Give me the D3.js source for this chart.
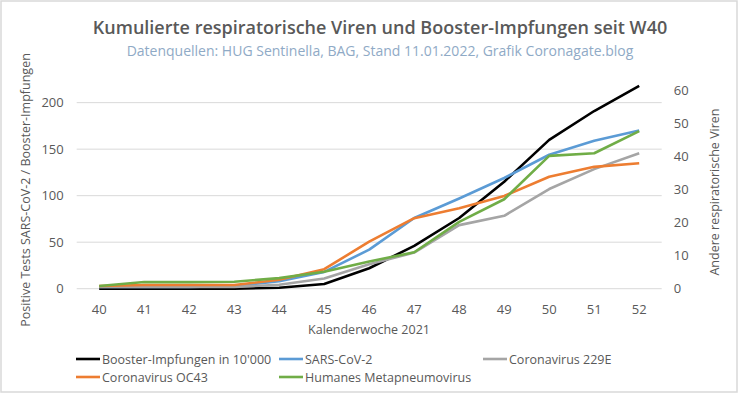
<html>
<head>
<meta charset="utf-8">
<script src="https://d3js.org/d3.v7.min.js"></script>
<style>
  body { margin: 0; background: #fff; }
  text { font-family: "Open Sans", sans-serif; fill: #595959; }
</style>
</head>
<body>
<div id="chart"></div>
<script>
// Kalenderwochen
const weeks = [40, 41, 42, 43, 44, 45, 46, 47, 48, 49, 50, 51, 52];

// left axis series
const booster = [0, 0, 0, 0, 1, 5, 22, 46, 76, 115, 160, 191, 218];
const sarsCov2 = [2, 2, 2, 3, 8, 18, 42, 76, 97, 119, 144, 159, 170];

// right axis series
const cov229E = [0.5, 0.5, 0.5, 0.5, 1.2, 3.1, 7.4, 10.9, 19.2, 22, 30.1, 36.1, 40.9];
const covOC43 = [0.8, 1.1, 1.1, 1.1, 2.7, 5.9, 14.2, 21.3, 24.3, 28, 33.8, 36.8, 37.9];
const metapneumo = [0.8, 2, 2, 2.1, 3.2, 5.1, 8.2, 11, 20.2, 27, 40.1, 40.9, 47.6];

const leftTicks = [0, 50, 100, 150, 200];
const rightTicks = [0, 10, 20, 30, 40, 50, 60];

const series = [
  {name: "Booster-Impfungen in 10'000", values: booster, axis: "left", color: "#000000"},
  {name: "SARS-CoV-2", values: sarsCov2, axis: "left", color: "#5b9bd5"},
  {name: "Coronavirus 229E", values: cov229E, axis: "right", color: "#a5a5a5"},
  {name: "Coronavirus OC43", values: covOC43, axis: "right", color: "#ed7d31"},
  {name: "Humanes Metapneumovirus", values: metapneumo, axis: "right", color: "#70ad47"}
];

const W = 740, H = 395;
const plotL = 76.7, plotR = 661.7, plotT = 90, plotB = 288.7;

const svg = d3.select("#chart").append("svg")
  .attr("width", W).attr("height", H);

svg.append("rect")
  .attr("x", 1).attr("y", 1).attr("width", W - 4).attr("height", H - 4)
  .attr("fill", "#fff").attr("stroke", "#d9d9d9").attr("stroke-width", 1.5);

const x = d3.scaleBand().domain(weeks).range([plotL, plotR]);
const yL = d3.scaleLinear().domain([0, 213.6]).range([plotB, plotT]);
const yR = d3.scaleLinear().domain([0, 60]).range([plotB, plotT]);

// gridlines
svg.append("g").selectAll("line").data(leftTicks).enter().append("line")
  .attr("x1", plotL).attr("x2", plotR)
  .attr("y1", d => yL(d)).attr("y2", d => yL(d))
  .attr("stroke", "#d9d9d9").attr("stroke-width", 1);

// left axis
const axL = svg.append("g")
  .attr("transform", `translate(${plotL},0)`)
  .call(d3.axisLeft(yL).tickValues(leftTicks).tickSize(0).tickPadding(13));
axL.select(".domain").remove();
axL.selectAll("text").style("font-size", "13px").attr("fill", "#595959");

// right axis
const axR = svg.append("g")
  .attr("transform", `translate(${plotR},0)`)
  .call(d3.axisRight(yR).tickValues(rightTicks).tickSize(0).tickPadding(12));
axR.select(".domain").remove();
axR.selectAll("text").style("font-size", "13px").attr("fill", "#595959");

// x axis
const axX = svg.append("g")
  .attr("transform", `translate(0,${plotB})`)
  .call(d3.axisBottom(x).tickSize(0).tickPadding(16));
axX.select(".domain").remove();
axX.selectAll("text").style("font-size", "13px").attr("fill", "#595959");

// lines
const cx = d => x(d) + x.bandwidth() / 2;
series.forEach(s => {
  const yScale = s.axis === "left" ? yL : yR;
  const line = d3.line()
    .x((d, i) => cx(weeks[i]))
    .y(d => yScale(d));
  svg.append("path")
    .datum(s.values)
    .attr("d", line)
    .attr("fill", "none")
    .attr("stroke", s.color)
    .attr("stroke-width", 2.6)
    .attr("stroke-linejoin", "round");
});

// titles
svg.append("text")
  .attr("x", 380).attr("y", 34)
  .attr("text-anchor", "middle")
  .style("font-size", "18px").style("font-weight", "600")
  .text("Kumulierte respiratorische Viren und Booster-Impfungen seit W40");

svg.append("text")
  .attr("x", 380).attr("y", 56)
  .attr("text-anchor", "middle")
  .style("font-size", "14px").style("fill", "#8faac6")
  .text("Datenquellen: HUG Sentinella, BAG, Stand 11.01.2022, Grafik Coronagate.blog");

svg.append("text")
  .attr("transform", "translate(30,190) rotate(-90)")
  .attr("text-anchor", "middle")
  .style("font-size", "12.5px")
  .text("Positive Tests SARS-CoV-2 / Booster-Impfungen");

svg.append("text")
  .attr("transform", "translate(719,192) rotate(-90)")
  .attr("text-anchor", "middle")
  .style("font-size", "12.5px")
  .text("Andere respiratorische Viren");

svg.append("text")
  .attr("x", 369).attr("y", 334)
  .attr("text-anchor", "middle")
  .style("font-size", "12.5px")
  .text("Kalenderwoche 2021");

// legend
const legendPos = [[76, 359], [279, 359], [483, 359], [76, 377], [279, 377]];
const lg = svg.append("g").selectAll("g").data(series).enter().append("g")
  .attr("transform", (d, i) => `translate(${legendPos[i][0]},${legendPos[i][1]})`);
lg.append("line")
  .attr("x1", 0).attr("x2", 24).attr("y1", 0).attr("y2", 0)
  .attr("stroke", d => d.color).attr("stroke-width", 2.6);
lg.append("text")
  .attr("x", 26).attr("y", 4.5)
  .style("font-size", "12.5px")
  .text(d => d.name);
</script>
</body>
</html>
